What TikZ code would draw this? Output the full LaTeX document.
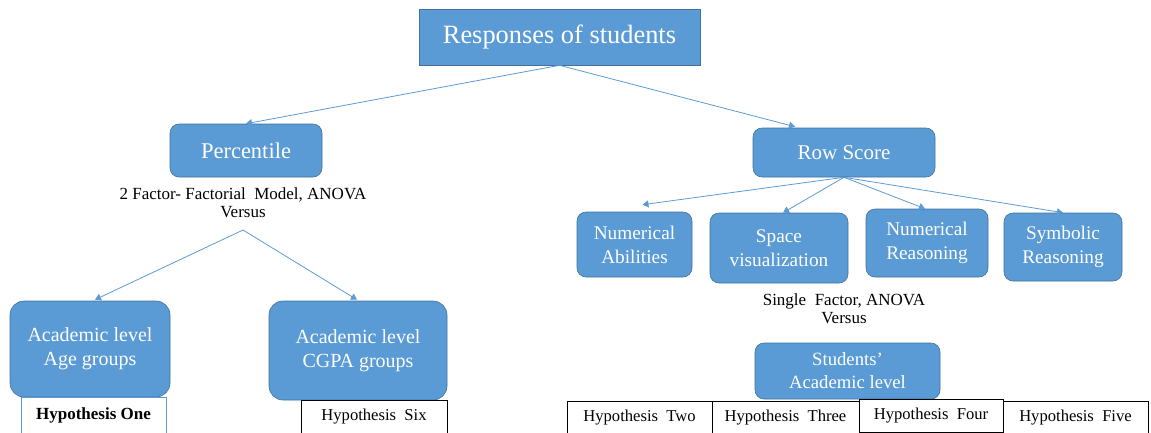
\documentclass[tikz,border=0pt]{standalone}
\usepackage{fontspec}
\setmainfont{Liberation Serif}
\usetikzlibrary{arrows.meta,calc}
\definecolor{boxblue}{HTML}{5B9BD5}
\definecolor{boxedge}{HTML}{41719C}
\begin{document}
\begin{tikzpicture}[x=1pt,y=-1pt,
  bluebox/.style={draw=boxedge, fill=boxblue, rounded corners=9pt, text=white, align=center, inner sep=0pt, line width=0.6pt, font=\fontsize{19.3}{24}\selectfont},
  hypbox/.style={draw=black, fill=white, inner sep=0pt, line width=0.6pt, minimum height=33pt, font=\fontsize{16.6}{18}\selectfont},
  note/.style={align=center, inner sep=0pt, font=\fontsize{17}{18}\selectfont},
  conn/.style={draw=boxblue, line width=0.8pt, -{Triangle[width=7pt,length=6pt]}},
  plain/.style={draw=boxblue, line width=0.8pt}]
\useasboundingbox (0,0) rectangle (1151,432);
% top
\node[bluebox, rounded corners=0pt, minimum width=281pt, minimum height=56pt, font=\fontsize{26.4}{28}\selectfont] (top) at (559.5,37) {Responses of students};
\node[bluebox, minimum width=152pt, minimum height=53pt, font=\fontsize{22.5}{24}\selectfont] (perc) at (246,150.5) {Percentile};
\node[bluebox, minimum width=182pt, minimum height=49pt, font=\fontsize{21}{24}\selectfont] (row) at (844,152.5) {Row Score};
% row score children
\node[bluebox, minimum width=115pt, minimum height=65pt] (numab) at (634.5,244.5) {Numerical\\Abilities};
\node[bluebox, minimum width=138pt, minimum height=70pt] (space) at (779,248) {Space\\visualization};
\node[bluebox, minimum width=122pt, minimum height=68pt] (numreas) at (927,243) {Numerical\\Reasoning};
\node[bluebox, minimum width=118pt, minimum height=68pt] (symb) at (1063,247) {Symbolic\\Reasoning};
% percentile children
\node[note] (fact) at (243,203) {2 Factor- Factorial\ \ Model, ANOVA\\Versus};
\coordinate (v) at (243,230);
\node[bluebox, rounded corners=14pt, minimum width=160pt, minimum height=96pt, font=\fontsize{20}{24}\selectfont] (age) at (90,349) {Academic level\\Age groups};
\node[bluebox, rounded corners=14pt, minimum width=178pt, minimum height=99pt, font=\fontsize{20}{24}\selectfont] (cgpa) at (358,350.5) {Academic level\\CGPA groups};
% single factor
\node[note] (single) at (844,309) {Single\ \ Factor, ANOVA\\Versus};
\node[bluebox, minimum width=185pt, minimum height=56pt, font=\fontsize{18.7}{23}\selectfont] (stud) at (847.5,371) {Students’\\Academic level};
% hypotheses
\node[hypbox, draw=boxblue, minimum width=145pt, minimum height=36pt, font=\fontsize{17}{18}\selectfont\bfseries] (h1) at (93.5,415) {Hypothesis One};
\node[hypbox, minimum width=146pt] (h6) at (374,416.5) {Hypothesis\ \ Six};
\node[hypbox, minimum width=145pt] (h2) at (639.5,417.5) {Hypothesis\ \ Two};
\node[hypbox, minimum width=147pt] (h3) at (785.5,417.5) {Hypothesis\ \ Three};
\node[hypbox, minimum width=144pt] (h4) at (931,415.5) {Hypothesis\ \ Four};
\node[hypbox, minimum width=145pt] (h5) at (1075.5,417.5) {Hypothesis\ \ Five};
% connectors
\draw[conn] (top.south) -- (perc.north);
\draw[conn] (top.south) -- ($(row.north)+(-49,-1)$);
\draw[conn] (row.south) -- ($(numab.north)+(8,-7)$);
\draw[conn] (row.south) -- ($(space.north)+(4,0)$);
\draw[conn] (row.south) -- ($(numreas.north)+(-2,0)$);
\draw[conn] (row.south) -- (symb.north);
\draw[conn] (v) -- ($(age.north)+(5,-1)$);
\draw[conn] (v) -- ($(cgpa.north)+(-1,-1)$);
\end{tikzpicture}
\end{document}
